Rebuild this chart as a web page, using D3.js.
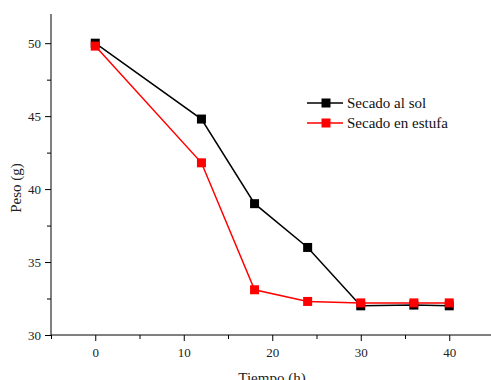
<!DOCTYPE html>
<html><head><meta charset="utf-8">
<script src="https://cdn.jsdelivr.net/npm/d3@7"></script>
<style>body{margin:0;background:#fff}svg{display:block}text{font-family:"Liberation Serif","Times New Roman",serif}</style>
</head><body>
<script>
const tiempo = [0, 12, 18, 24, 30, 36, 40];
const sol = [50.0, 44.8, 39.0, 36.0, 32.0, 32.05, 32.0];
const estufa = [49.8, 41.8, 33.1, 32.3, 32.2, 32.2, 32.2];
const seriesNames = ["Secado al sol", "Secado en estufa"];
const seriesColors = ["#000000", "#ff0000"];
const xTicks = [0, 10, 20, 30, 40];
const yTicks = [30, 35, 40, 45, 50];

const W = 491, H = 380;
const svg = d3.select("body").append("svg").attr("width", W).attr("height", H);
const x = d3.scaleLinear().domain([-5, 45]).range([51, 493.5]);
const y = d3.scaleLinear().domain([30, 52]).range([335, 14]);

// axes
const xAxis = d3.axisBottom(x).tickValues(d3.range(-5, 46, 5)).tickSize(4).tickFormat(d => xTicks.includes(d) ? d : "");
const gx = svg.append("g").attr("transform", "translate(0,335)").call(xAxis);
gx.select(".domain").attr("d", "M51,0H491").attr("stroke", "#000");
gx.selectAll(".tick line").attr("y2", d => xTicks.includes(d) ? 6 : 4).attr("stroke", "#000");
gx.selectAll("text").attr("font-size", 13).attr("fill", "#222").attr("y", 10).attr("dy", "0.9em").style("font-family", '"Liberation Serif",serif');

const yAxis = d3.axisLeft(y).tickValues(d3.range(30, 52.1, 2.5)).tickSize(4).tickFormat(d => yTicks.includes(d) ? d : "");
const gy = svg.append("g").attr("transform", "translate(51,0)").call(yAxis);
gy.select(".domain").attr("d", "M0,335V14").attr("stroke", "#000");
gy.selectAll(".tick line").attr("x2", d => yTicks.includes(d) ? -6 : -4).attr("stroke", "#000");
gy.selectAll("text").attr("font-size", 13).attr("fill", "#222").attr("x", -10).style("font-family", '"Liberation Serif",serif');

svg.append("text").attr("x", 272).attr("y", 383).attr("text-anchor", "middle").attr("font-size", 15).attr("fill", "#222").text("Tiempo (h)");
svg.append("text").attr("transform", "translate(21,188) rotate(-90)").attr("text-anchor", "middle").attr("font-size", 15).attr("fill", "#222").text("Peso (g)");

const data = [sol, estufa];
const line = d3.line().x((d, i) => x(tiempo[i])).y(d => y(d));
data.forEach((vals, k) => {
  const g = svg.append("g");
  g.append("path").attr("d", line(vals)).attr("fill", "none").attr("stroke", seriesColors[k]).attr("stroke-width", 1.5);
  g.selectAll("rect").data(vals).join("rect")
    .attr("x", (d, i) => x(tiempo[i]) - 4.5).attr("y", d => y(d) - 4.5)
    .attr("width", 9).attr("height", 9).attr("fill", seriesColors[k]);
});

// legend
const lg = svg.append("g");
seriesNames.forEach((n, k) => {
  const yy = 103 + k * 20;
  lg.append("line").attr("x1", 307).attr("x2", 343).attr("y1", yy).attr("y2", yy).attr("stroke", seriesColors[k]).attr("stroke-width", 1.5);
  lg.append("rect").attr("x", 321.5).attr("y", yy - 4.5).attr("width", 9).attr("height", 9).attr("fill", seriesColors[k]);
  lg.append("text").attr("x", 347).attr("y", yy + 5).attr("font-size", 15).attr("fill", "#111").text(n);
});
</script>
</body></html>
